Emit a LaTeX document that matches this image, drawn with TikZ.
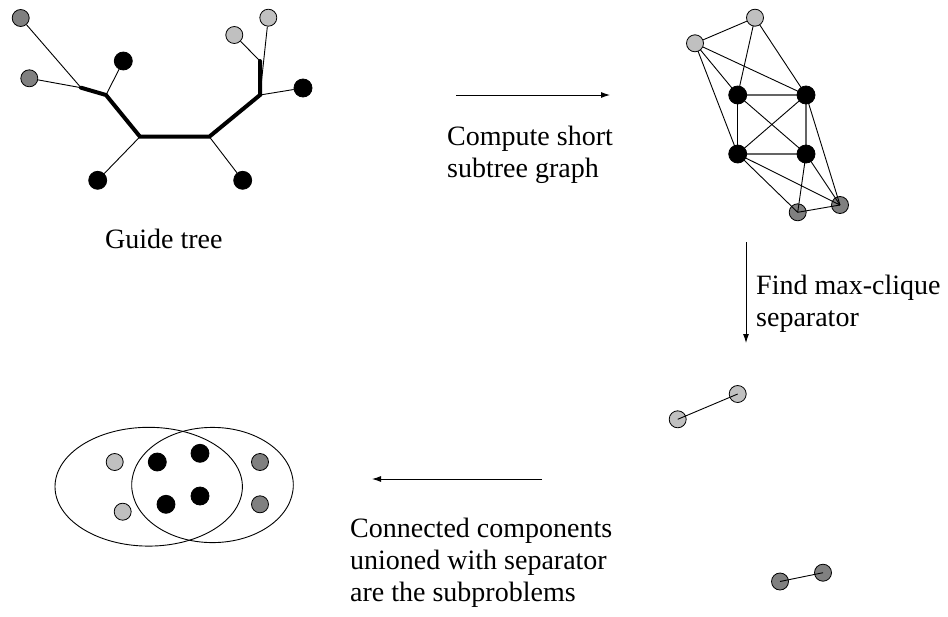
\documentclass[tikz,border=0pt]{standalone}
\usepackage{fontspec}
\setmainfont{Liberation Serif}
\usetikzlibrary{arrows.meta}
\definecolor{lgc}{RGB}{192,192,192}
\definecolor{dgc}{RGB}{128,128,128}
\definecolor{edgegray}{RGB}{100,100,100}
\tikzset{
  vtx/.style={circle,draw=black,line width=0.8pt,minimum size=17pt,inner sep=0pt},
  lgn/.style={vtx,fill=lgc},
  dgn/.style={vtx,fill=dgc},
  bkn/.style={vtx,fill=black,minimum size=18pt},
  thinl/.style={line width=0.9pt},
  grayl/.style={line width=1.3pt,draw=edgegray},
  thickl/.style={line width=4pt,line cap=round},
  flow/.style={line width=0.9pt,-{Latex[length=9pt,width=6pt]}},
  lbl/.style={font=\fontsize{28}{31.8}\selectfont,inner sep=0pt,align=left,anchor=base west},
}
\begin{document}
\begin{tikzpicture}[x=1pt,y=-1pt]
\useasboundingbox (0,0) rectangle (948,616);
% ---------- guide tree ----------
\node[dgn] (t1) at (20.7,18) {};
\node[dgn] (t2) at (29.3,78.3) {};
\node[bkn] (t3) at (123.3,61) {};
\node[bkn] (t4) at (97.7,180.3) {};
\node[bkn] (t5) at (242.7,180.3) {};
\node[lgn] (t6) at (234.3,35) {};
\node[lgn] (t7) at (268.3,17.7) {};
\node[bkn] (t8) at (303,88) {};
\coordinate (ja) at (81,87.7);
\coordinate (jb) at (106,95);
\coordinate (jc) at (140,136.7);
\coordinate (jd) at (209.3,136.7);
\coordinate (je) at (260,95);
\coordinate (jf) at (260,61);
\draw[thinl] (t1) -- (ja);
\draw[thinl] (t2) -- (ja);
\draw[thinl] (t3) -- (jb);
\draw[thinl] (t4) -- (jc);
\draw[thinl] (t5) -- (jd);
\draw[thinl] (t6) -- (jf);
\draw[thinl] (t7) -- (je);
\draw[thinl] (t8) -- (je);
\draw[thickl] (ja) -- (jb) -- (jc) -- (jd) -- (je) -- (jf);
\node[lbl] (guide) at (105,248.3) {Guide tree};
% ---------- arrow 1 ----------
\coordinate (a1s) at (456,95);
\coordinate (a1e) at (610,95);
\draw[flow] (a1s) -- (a1e);
\node[lbl] (compute) at (447,177.5) {Compute short\\subtree graph};
% ---------- short subtree graph ----------
\node[dgn] (g7) at (797.7,212.3) {};
\node[dgn] (g8) at (840,205) {};
\coordinate (g1) at (755,17.7);
\coordinate (g2) at (695,43.3);
\coordinate (g3) at (737.7,95);
\coordinate (g4) at (806,95);
\coordinate (g5) at (737.7,154);
\coordinate (g6) at (806,154);
\draw[thinl] (g2) -- (g1);
\draw[thinl] (g1) -- (g3);
\draw[thinl] (g1) -- (g4);
\draw[thinl] (g2) -- (g3);
\draw[thinl] (g2) -- (g4);
\draw[thinl] (g2) -- (g5);
\draw[grayl] (g3) -- (g4);
\draw[thinl] (g3) -- (g5);
\draw[thinl] (g3) -- (g6);
\draw[thinl] (g4) -- (g5);
\draw[grayl] (g4) -- (g6);
\draw[grayl] (g5) -- (g6);
\draw[thinl] (g5) -- (g7.center);
\draw[thinl] (g5) -- (g8.center);
\draw[thinl] (g6) -- (g7.center);
\draw[thinl] (g6) -- (g8.center);
\draw[thinl] (g4) -- (g8.center);
\draw[thinl] (g7.center) -- (g8.center);
\node[lgn] (n1) at (g1) {};
\node[lgn] (n2) at (g2) {};
\node[bkn] (n3) at (g3) {};
\node[bkn] (n4) at (g4) {};
\node[bkn] (n5) at (g5) {};
\node[bkn] (n6) at (g6) {};
% ---------- arrow 2 ----------
\coordinate (a2s) at (746,242);
\coordinate (a2e) at (746,343);
\draw[flow] (a2s) -- (a2e);
\node[lbl] (find) at (756,326) {Find max-clique\\separator};
% ---------- separated components ----------
\node[lgn] (s1) at (677.7,419.3) {};
\node[lgn] (s2) at (737.7,394) {};
\node[dgn] (s3) at (780,581.5) {};
\node[dgn] (s4) at (823,572.7) {};
\draw[thinl] (s1.center) -- (s2.center);
\draw[thinl] (s3.center) -- (s4.center);
% ---------- arrow 3 ----------
\coordinate (a3s) at (542,479);
\coordinate (a3e) at (372,479);
\draw[flow] (a3s) -- (a3e);
\node[lbl] (conn) at (350,601) {Connected components\\unioned with separator\\are the subproblems};
% ---------- Venn ----------
\draw[thinl] (148.7,486.7) ellipse [x radius=93.7,y radius=59.4];
\draw[thinl] (212.5,485) ellipse [x radius=80.8,y radius=57.6];
\node[lgn] (v1) at (114.7,462) {};
\node[lgn] (v2) at (122.7,511.7) {};
\node[bkn] (v3) at (157.3,462) {};
\node[bkn] (v4) at (200,453.3) {};
\node[bkn] (v5) at (166,504.3) {};
\node[bkn] (v6) at (200,496) {};
\node[dgn] (v7) at (260,462) {};
\node[dgn] (v8) at (260,504.3) {};
\end{tikzpicture}
\end{document}
